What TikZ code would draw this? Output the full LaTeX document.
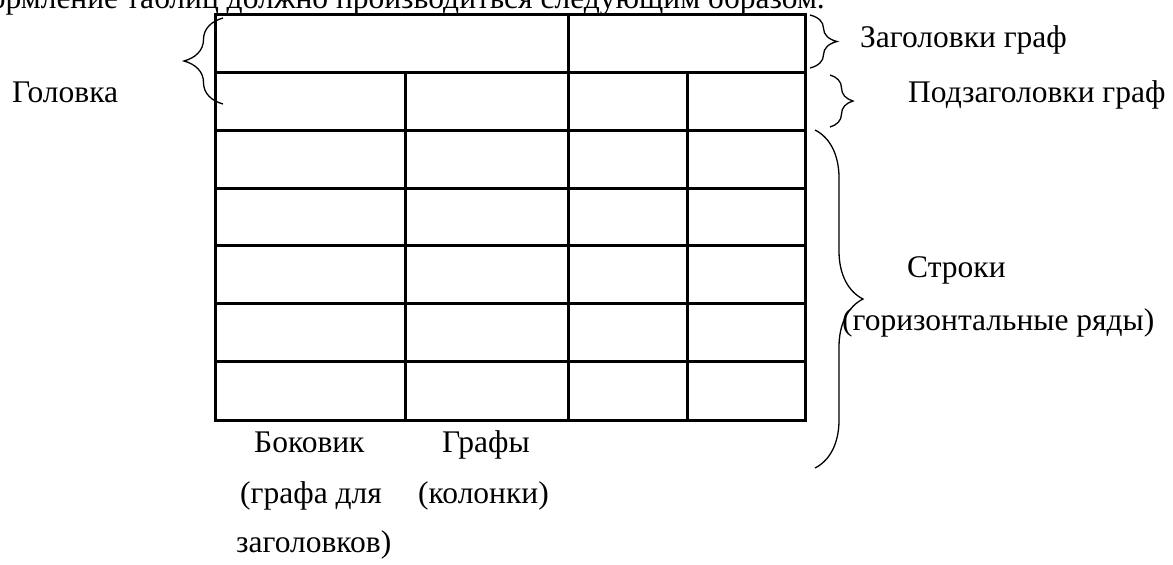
\documentclass[tikz,border=0pt]{standalone}
\usepackage{fontspec}
\setmainfont{Liberation Serif}
\usetikzlibrary{decorations.pathreplacing, positioning}

\begin{document}
\begin{tikzpicture}[
      x=1pt, y=-1pt,
      rule/.style={line width=3pt, line cap=rect},
      curly/.style={decorate, decoration={brace, amplitude=#1}, line width=1.3pt},
      every node/.style={font=\fontsize{31.5}{38}\selectfont, inner sep=0pt, anchor=base west}
    ]
      \useasboundingbox (0,0) rectangle (1173,565);
      \clip (0,0) rectangle (1173,565);

      % table
      \foreach \y in {14,72,130,188,245,303,361,420}
        \draw[rule] (215,\y) -- (805,\y);
      \foreach \x in {215,568,805}
        \draw[rule] (\x,14) -- (\x,420);
      \foreach \x in {405,687}
        \draw[rule] (\x,72) -- (\x,420);

      % brace ends
      \coordinate (headtop) at (223,18);
      \coordinate (headbot) at (223,104);
      \coordinate (captop) at (810,15);
      \coordinate (capbot) at (810,68);
      \coordinate (subtop) at (830,75);
      \coordinate (subbot) at (830,127);
      \coordinate (rowtop) at (815,130);
      \coordinate (rowbot) at (815,468);

      \draw[curly=39pt] (headbot) -- (headtop);
      \draw[curly=27pt] (captop) -- (capbot);
      \draw[curly=23pt] (subtop) -- (subbot);
      \draw[curly=48pt] (rowtop) -- (rowbot);

      % labels
      \node[anchor=base east] (intro) at (825,8) {Оформление таблиц должно производиться следующим образом.};
      \node (head) at (12,102) {Головка};
      \node (cap) at (860,47) {Заголовки граф};
      \node (sub) at (908,102) {Подзаголовки граф};
      \node (rows) at (907,277) {Строки};
      \node (rowsnote) at (842,330) {(горизонтальные ряды)};
      \node (stub) at (254,452) {Боковик};
      \node (stubnote) at (240,503) {(графа для};
      \node (stubnote2) at (236,552) {заголовков)};
      \node (cols) at (442,452) {Графы};
      \node (colsnote) at (418,503) {(колонки)};
\end{tikzpicture}
\end{document}
